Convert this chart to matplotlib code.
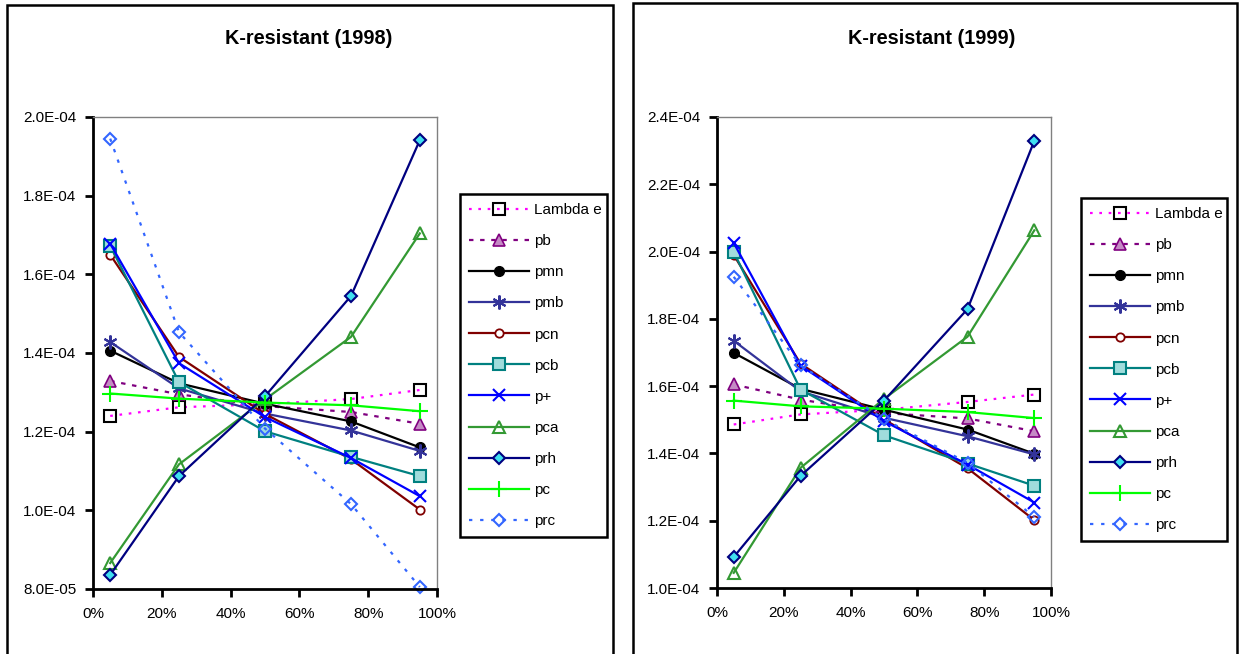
import matplotlib
matplotlib.use("Agg")
import matplotlib.pyplot as plt
from matplotlib.patches import Rectangle
from matplotlib.ticker import FuncFormatter, MultipleLocator

plt.rcParams['font.family'] = ['Liberation Sans', 'DejaVu Sans']

# ---------------- data ----------------
x_frac = [0.05, 0.25, 0.50, 0.75, 0.95]
series_names = ["Lambda e", "pb", "pmn", "pmb", "pcn", "pcb", "p+", "pca", "prh", "pc", "prc"]

titles = ["K-resistant (1998)", "K-resistant (1999)"]

# 1998
lam_98 = [1.240e-4, 1.262e-4, 1.270e-4, 1.283e-4, 1.306e-4]
pb_98  = [1.329e-4, 1.295e-4, 1.265e-4, 1.250e-4, 1.220e-4]
pmn_98 = [1.406e-4, 1.323e-4, 1.271e-4, 1.226e-4, 1.160e-4]
pmb_98 = [1.428e-4, 1.310e-4, 1.246e-4, 1.203e-4, 1.151e-4]
pcn_98 = [1.650e-4, 1.390e-4, 1.245e-4, 1.130e-4, 1.002e-4]
pcb_98 = [1.673e-4, 1.326e-4, 1.201e-4, 1.136e-4, 1.087e-4]
pp_98  = [1.678e-4, 1.374e-4, 1.237e-4, 1.133e-4, 1.036e-4]
pca_98 = [0.866e-4, 1.117e-4, 1.282e-4, 1.441e-4, 1.704e-4]
prh_98 = [0.836e-4, 1.087e-4, 1.290e-4, 1.545e-4, 1.941e-4]
pc_98  = [1.297e-4, 1.284e-4, 1.274e-4, 1.267e-4, 1.252e-4]
prc_98 = [1.945e-4, 1.453e-4, 1.208e-4, 1.016e-4, 0.805e-4]

# 1999
lam_99 = [1.486e-4, 1.516e-4, 1.530e-4, 1.553e-4, 1.575e-4]
pb_99  = [1.605e-4, 1.560e-4, 1.520e-4, 1.504e-4, 1.466e-4]
pmn_99 = [1.699e-4, 1.592e-4, 1.530e-4, 1.471e-4, 1.399e-4]
pmb_99 = [1.735e-4, 1.585e-4, 1.506e-4, 1.451e-4, 1.397e-4]
pcn_99 = [1.990e-4, 1.667e-4, 1.501e-4, 1.356e-4, 1.202e-4]
pcb_99 = [1.999e-4, 1.590e-4, 1.454e-4, 1.370e-4, 1.304e-4]
pp_99  = [2.026e-4, 1.661e-4, 1.496e-4, 1.367e-4, 1.254e-4]
pca_99 = [1.045e-4, 1.357e-4, 1.562e-4, 1.747e-4, 2.063e-4]
prh_99 = [1.092e-4, 1.333e-4, 1.557e-4, 1.829e-4, 2.329e-4]
pc_99  = [1.557e-4, 1.540e-4, 1.533e-4, 1.523e-4, 1.505e-4]
prc_99 = [1.925e-4, 1.662e-4, 1.502e-4, 1.372e-4, 1.211e-4]

data_98 = [lam_98, pb_98, pmn_98, pmb_98, pcn_98, pcb_98, pp_98, pca_98, prh_98, pc_98, prc_98]
data_99 = [lam_99, pb_99, pmn_99, pmb_99, pcn_99, pcb_99, pp_99, pca_99, prh_99, pc_99, prc_99]

ylims = [(0.8e-4, 2.0e-4), (1.0e-4, 2.4e-4)]

# ---------------- styles ----------------
styles = [
    dict(color='#FF00FF', ls=(0, (1.2, 3.0)), marker='s', mfc='none', mec='black', ms=8, mew=1.5),
    dict(color='#800080', ls=(0, (2.0, 3.0)), marker='^', mfc='#C58AC5', mec='#800080', ms=8, mew=1.2),
    dict(color='black', ls='-', marker='o', mfc='black', mec='black', ms=7, mew=1),
    dict(color='#333399', ls='-', marker=(6, 2, 0), mfc='#333399', mec='#333399', ms=10, mew=1.5),
    dict(color='#800000', ls='-', marker='o', mfc='white', mec='#800000', ms=6, mew=1.3),
    dict(color='#008080', ls='-', marker='s', mfc='#A0DCDC', mec='#008080', ms=8, mew=1.5),
    dict(color='#0000FF', ls='-', marker='x', mfc='#0000FF', mec='#0000FF', ms=9, mew=1.5),
    dict(color='#339933', ls='-', marker='^', mfc='none', mec='#339933', ms=8, mew=1.5),
    dict(color='#000080', ls='-', marker='D', mfc='#40E0F0', mec='#000080', ms=6.5, mew=1.5),
    dict(color='#00FF00', ls='-', marker='+', mfc='#00FF00', mec='#00FF00', ms=11, mew=1.5),
    dict(color='#3366FF', ls=(0, (1.5, 3.5)), marker='D', mfc='none', mec='#3366FF', ms=6.5, mew=1.5),
]

W, H = 1239, 654
fig = plt.figure(figsize=(W / 100, H / 100), dpi=100)

def fx(px):
    return px / W

def fy(py):
    return 1 - py / H

# panel borders
for (x0, x1, y0) in [(7, 613, 5), (633, 1237, 3)]:
    fig.patches.append(Rectangle((fx(x0), fy(H + 10)), fx(x1) - fx(x0), fy(y0) - fy(H + 10),
                                 transform=fig.transFigure, fill=False, ec='black', lw=1.8,
                                 clip_on=False))

axes_px = [(93, 437, 117, 589), (717, 1051, 117, 588)]
legend_px = [(460, 194, 147), (1081, 198, 146)]
title_cx = [309, 932]

for k, (data, yl) in enumerate([(data_98, ylims[0]), (data_99, ylims[1])]):
    l, r, t, b = axes_px[k]
    ax = fig.add_axes([fx(l), fy(b), fx(r) - fx(l), fy(t) - fy(b)])
    handles = []
    for name, vals, st in zip(series_names, data, styles):
        h, = ax.plot(x_frac, vals, color=st['color'], linestyle=st['ls'], lw=1.6,
                     marker=st['marker'], markerfacecolor=st['mfc'],
                     markeredgecolor=st['mec'], markersize=st['ms'],
                     markeredgewidth=st['mew'], label=name, clip_on=False)
        handles.append(h)
    ax.set_xlim(0, 1)
    ax.set_ylim(*yl)
    ax.xaxis.set_major_locator(MultipleLocator(0.2))
    ax.yaxis.set_major_locator(MultipleLocator(2e-5))
    ax.xaxis.set_major_formatter(FuncFormatter(lambda v, p: f"{v*100:.0f}%"))
    ax.yaxis.set_major_formatter(FuncFormatter(lambda v, p: f"{v:.1E}"))
    for s in ['left', 'bottom']:
        ax.spines[s].set_linewidth(2.0)
        ax.spines[s].set_color('black')
    for s in ['top', 'right']:
        ax.spines[s].set_linewidth(1.0)
        ax.spines[s].set_color('#808080')
    ax.tick_params(axis='both', direction='out', length=6, width=2, labelsize=11, colors='black')
    ax.tick_params(axis='x', pad=7)
    ax.tick_params(axis='y', pad=6)

    fig.text(fx(title_cx[k]), fy(38), titles[k], ha='center', va='center',
             fontsize=14.3, fontweight='bold')

    lx, ly, lw_ = legend_px[k]
    leg = fig.legend(handles=handles, loc='upper left',
                     bbox_to_anchor=(fx(lx), fy(ly), fx(lw_), 0.0),
                     bbox_transform=fig.transFigure, mode='expand',
                     fontsize=11, handlelength=3.9, handletextpad=0.33,
                     labelspacing=1.12, borderpad=0.6, borderaxespad=0,
                     fancybox=False, framealpha=1, edgecolor='black')
    leg.get_frame().set_linewidth(1.8)

fig.savefig('out.png', dpi=100)
